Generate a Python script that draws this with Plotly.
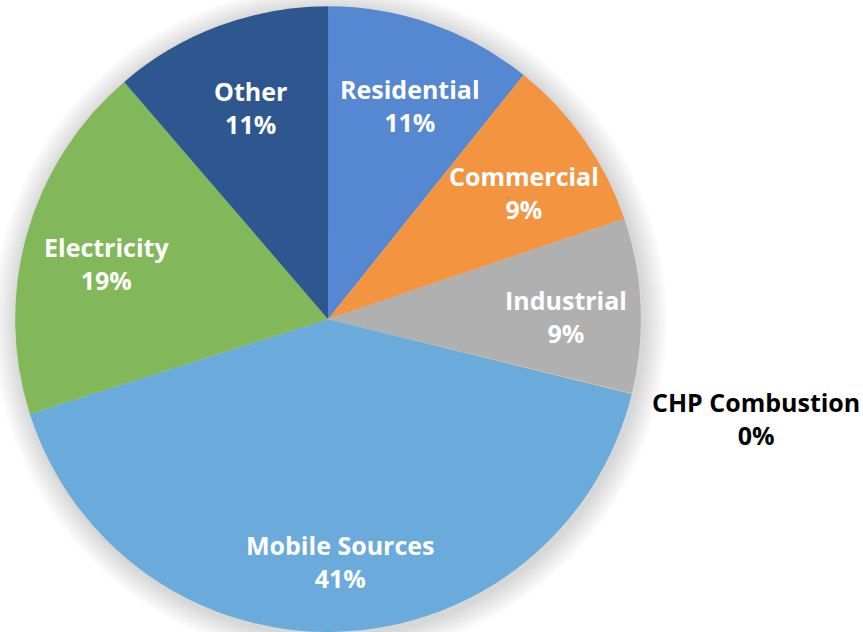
import math
import plotly.graph_objects as go

categories = ["Residential", "Commercial", "Industrial", "CHP Combustion",
              "Mobile Sources", "Electricity", "Other"]
values = [10.75, 9.05, 9.0, 0.05, 41.25, 18.6, 11.3]
colors = ["#5687D1", "#F39441", "#B0B0B0", "#E8C46A",
          "#6AABDC", "#82B85A", "#2F578F"]
outside_label = [False, False, False, True, False, False, False]

W, H = 863, 632
dom_x = [0.0174, 0.7428]
dom_y = [0.0, 0.99]
FONT = "Open Sans"
FS = 25

# pie geometry derived from the domain (pixels, origin top-left)
cx = W * (dom_x[0] + dom_x[1]) / 2
cy = H * (1 - (dom_y[0] + dom_y[1]) / 2)
R = min(W * (dom_x[1] - dom_x[0]), H * (dom_y[1] - dom_y[0])) / 2

fig = go.Figure()

# soft halo (shadow) around the pie
for k in range(8):
    rr = R + 3 + 3 * k
    fig.add_shape(type="circle", xref="paper", yref="paper", layer="below",
                  x0=(cx - rr + 2) / W, x1=(cx + rr + 2) / W,
                  y0=1 - (cy + rr + 3) / H, y1=1 - (cy - rr + 3) / H,
                  fillcolor="rgba(0,0,0,0.018)", line=dict(width=0))

fig.add_trace(go.Pie(
    labels=categories,
    values=values,
    sort=False,
    direction="clockwise",
    rotation=0,
    marker=dict(colors=colors, line=dict(width=0)),
    textinfo="none",
    domain=dict(x=dom_x, y=dom_y),
    hoverinfo="label+percent",
    automargin=False,
))

# data labels placed from each slice's mid-angle, derived from the data
total = sum(values)
cum = 0.0
for cat, v, o in zip(categories, values, outside_label):
    mid = (cum + v / 2) / total
    cum += v
    th = 2 * math.pi * mid
    pct = round(100 * v / total)
    if o:
        px = cx + R * math.sin(th)
        py = cy - R * math.cos(th)
        fig.add_annotation(x=px / W, y=1 - py / H, xref="paper", yref="paper",
                           text=f"{cat}<br>{pct}%", showarrow=False,
                           xanchor="left", yanchor="top", xshift=18, yshift=11,
                           align="center",
                           font=dict(family=FONT, size=FS, color="black", weight="bold"))
    else:
        px = cx + 0.75 * R * math.sin(th)
        py = cy - 0.75 * R * math.cos(th)
        fig.add_annotation(x=px / W, y=1 - py / H, xref="paper", yref="paper",
                           text=f"{cat}<br>{pct}%", showarrow=False,
                           xanchor="center", yanchor="middle", yshift=-8, xshift=4,
                           font=dict(family=FONT, size=FS, color="white", weight="bold"))

fig.update_layout(
    width=W, height=H,
    margin=dict(l=0, r=0, t=0, b=0),
    showlegend=False,
    paper_bgcolor="white",
    plot_bgcolor="white",
    font=dict(family=FONT, size=FS),
)

fig.write_html("out.html", config={"displayModeBar": False},
               post_script="document.body.style.margin='0';")
